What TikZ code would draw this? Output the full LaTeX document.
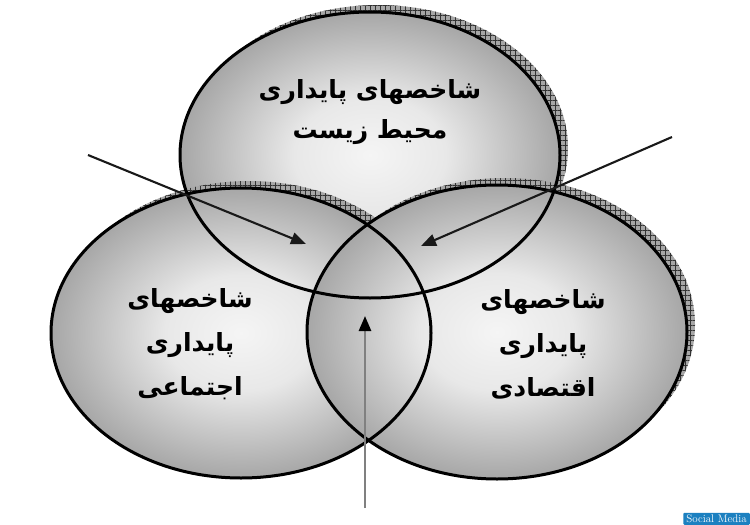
\documentclass[tikz,border=0pt]{standalone}
\usepackage{fontspec}
\usetikzlibrary{patterns.meta,arrows.meta}
\TeXXeTstate=1
\newfontfamily\arabicfont[Script=Arabic]{DejaVu Sans}
\pgfdeclareradialshading{ellshade}{\pgfpoint{0bp}{0bp}}{%
  color(0bp)=(black!4); color(10bp)=(black!9); color(24bp)=(black!33);
  color(38bp)=(black!56); color(50bp)=(black!76)}
\tikzset{
  shadowfill/.style={fill=black!35},
  shadowhatch/.style={pattern={Hatch[angle=0,distance=5pt,line width=0.7pt]}, pattern color=black!80},
  ellfill/.style={shading=ellshade},
  elline/.style={draw=black, line width=3pt},
  arr/.style={line width=2.1pt, draw=black!90, -{Triangle[length=15pt,width=12pt]}},
  varr/.style={line width=2.6pt, draw=black!50, -{Triangle[length=15pt,width=12pt,fill=black,color=black]}},
  lbl/.style={font=\arabicfont\bfseries\fontsize{25}{30}\selectfont, align=center, text=black},
}
\begin{document}
\begin{tikzpicture}[x=1pt,y=-1pt]
\useasboundingbox (0,0) rectangle (750,525);
% top ellipse
\fill[shadowfill] (378,148) ellipse [x radius=190, y radius=143];
\fill[shadowhatch] (378,148) ellipse [x radius=190, y radius=143];
\shade[ellfill] (370,155) ellipse [x radius=190, y radius=143];
% left ellipse
\fill[shadowfill] (249,326) ellipse [x radius=190, y radius=145];
\fill[shadowhatch] (249,326) ellipse [x radius=190, y radius=145];
\shade[ellfill] (241,333) ellipse [x radius=190, y radius=145];
% right ellipse
\fill[shadowfill] (505,325) ellipse [x radius=190, y radius=147];
\fill[shadowhatch] (505,325) ellipse [x radius=190, y radius=147];
\shade[ellfill] (497,332) ellipse [x radius=190, y radius=147];
% outlines
\draw[elline] (370,155) ellipse [x radius=190, y radius=143];
\draw[elline] (241,333) ellipse [x radius=190, y radius=145];
\draw[elline] (497,332) ellipse [x radius=190, y radius=147];
% labels
\node[lbl] (env) at (370,112) {\beginR شاخصهای پایداری\endR\\[10pt]\beginR محیط زیست\endR};
\node[lbl] (soc) at (190,344) {\beginR شاخصهای\endR\\[14pt]\beginR پایداری\endR\\[14pt]\beginR اجتماعی\endR};
\node[lbl] (eco) at (543,344) {\beginR شاخصهای\endR\\[14pt]\beginR پایداری\endR\\[14pt]\beginR اقتصادی\endR};
% arrows
\coordinate (a1s) at (88,155);
\coordinate (a1e) at (306,244);
\coordinate (a2s) at (672,137);
\coordinate (a2e) at (421,246);
\coordinate (a3s) at (365,508);
\coordinate (a3e) at (365,316);
\draw[arr] (a1s) -- (a1e);
\draw[arr] (a2s) -- (a2e);
\draw[varr] (a3s) -- (a3e);
% badge
\node[fill={rgb,255:red,28;green,128;blue,192}, text=white, font=\fontsize{11}{12}\selectfont\rmfamily, inner xsep=3pt, inner ysep=2pt, anchor=south east, rounded corners=1pt] (badge) at (750,525) {Social Media};
\end{tikzpicture}
\end{document}
